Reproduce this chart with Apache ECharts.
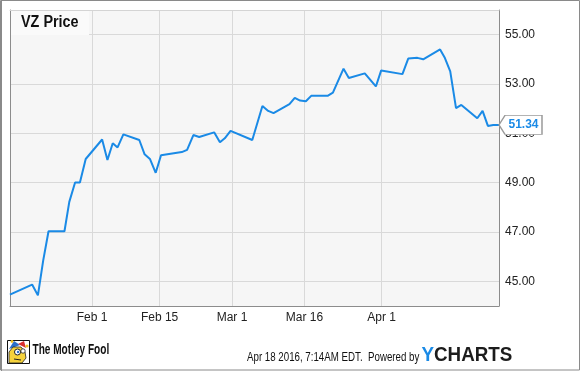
<!DOCTYPE html>
<html>
<head>
<meta charset="utf-8">
<script src="https://cdn.jsdelivr.net/npm/echarts@6/dist/echarts.min.js"></script>
<style>
html,body{margin:0;padding:0;background:#fff;}
#chart{width:580px;height:371px;}
</style>
</head>
<body>
<div id="chart"></div>
<script>
// x positions are day-of-year 2016 (Jan 1 = 0)
const tickDays = [31, 45, 60, 75, 91];
const tickLabels = ['Feb 1', 'Feb 15', 'Mar 1', 'Mar 16', 'Apr 1'];
const yLabelValues = [45, 47, 49, 51, 53, 55];
const days = [14.0, 18.6, 19.8, 20.9, 22.0, 25.3, 26.3, 27.5, 28.5, 29.7,
  33.1, 34.2, 35.3, 36.3, 37.5, 40.8, 41.9, 43.0, 44.2, 45.3,
  49.6, 50.7, 52.0, 53.2, 56.3, 57.5, 58.5, 59.7, 64.2, 66.3,
  67.5, 68.6, 71.9, 73.0, 74.1, 75.3, 76.4, 79.8, 80.9, 83.1,
  84.2, 87.5, 89.8, 90.9, 95.3, 96.5, 98.4, 99.6, 103.1, 104.1,
  105.2, 106.4, 107.5, 110.8, 111.9, 113.0, 114.1, 115.3];
const prices = [44.46, 44.87, 44.43, 45.85, 47.03, 47.03, 48.22, 49.01, 49.01, 49.96,
  50.75, 49.92, 50.60, 50.43, 50.96, 50.73, 50.15, 49.96, 49.40, 50.11,
  50.24, 50.33, 50.93, 50.85, 51.04, 50.64, 50.80, 51.10, 50.73, 52.11,
  51.91, 51.82, 52.18, 52.44, 52.33, 52.30, 52.52, 52.52, 52.65, 53.62,
  53.24, 53.43, 52.90, 53.55, 53.40, 54.03, 54.06, 54.00, 54.40, 54.05,
  53.51, 52.02, 52.15, 51.61, 51.91, 51.30, 51.34, 51.34];
const titleText = 'VZ Price';
const stampText = 'Apr 18 2016, 7:14AM EDT.  Powered by';

const FONT = '"Liberation Sans", Arial, sans-serif';
const LINE = '#1a8ae6';
const chart = echarts.init(document.getElementById('chart'), null, {renderer: 'canvas'});
const lastIdx = prices.length - 1;

chart.setOption({
  animation: false,
  backgroundColor: '#ffffff',
  grid: {left: 10, top: 10, right: 81, bottom: 65, show: true, backgroundColor: '#f6f6f6', borderWidth: 0},
  xAxis: [{
    type: 'value', min: 14.02, max: 115.3, position: 'bottom',
    axisLine: {show: true, lineStyle: {color: '#8c8c8c', width: 1}},
    axisTick: {show: false, customValues: tickDays},
    axisLabel: {customValues: tickDays, formatter: v => tickLabels[tickDays.indexOf(v)] || '',
      color: '#222', fontSize: 12, fontFamily: FONT, margin: 6},
    splitLine: {show: true, lineStyle: {color: '#d9d9d9', width: 1}}
  }, {
    type: 'value', min: 14.02, max: 115.3, position: 'top',
    axisLine: {show: true, lineStyle: {color: '#d4d4d4', width: 1}},
    axisTick: {show: false}, axisLabel: {show: false}, splitLine: {show: false}
  }],
  yAxis: [{
    type: 'value', min: 44, max: 56, interval: 1, position: 'right',
    axisLine: {show: true, lineStyle: {color: '#8c8c8c', width: 1}},
    axisTick: {show: false},
    axisLabel: {formatter: v => yLabelValues.indexOf(v) >= 0 ? v.toFixed(2) : '',
      color: '#222', fontSize: 12, fontFamily: FONT, margin: 6},
    splitLine: {show: true, lineStyle: {color: ['rgba(0,0,0,0)', '#d9d9d9'], width: 1}}
  }, {
    type: 'value', min: 44, max: 56, position: 'left',
    axisLine: {show: true, lineStyle: {color: '#8c8c8c', width: 1}},
    axisTick: {show: false}, axisLabel: {show: false}, splitLine: {show: false}
  }],
  series: [{
    type: 'line',
    xAxisIndex: 0, yAxisIndex: 0,
    data: days.map((d, i) => [d, prices[i]]),
    showSymbol: false,
    symbol: 'none',
    lineStyle: {color: LINE, width: 2},
    z: 3,
    markPoint: {
      symbol: 'path://M0,9.5 L6,0 L43,0 L43,19 L6,19 Z',
      symbolSize: [43, 19],
      symbolOffset: [21.5, 0],
      itemStyle: {color: '#ffffff', borderColor: '#9a9a9a', borderWidth: 1},
      label: {show: true, position: 'inside', offset: [3, 0], color: LINE, fontWeight: 'bold',
        fontSize: 12, fontFamily: FONT, formatter: p => Number(p.value).toFixed(2)},
      data: [{coord: [days[lastIdx], prices[lastIdx]], value: prices[lastIdx]}],
      z: 10
    }
  }],
  graphic: [
    // outer frame
    {type: 'rect', silent: true, z: 100, shape: {x: 0.5, y: 0.5, width: 579, height: 369.5},
      style: {fill: null, stroke: '#8a8a8a', lineWidth: 1}},
    {type: 'line', silent: true, z: 100, shape: {x1: 1.5, y1: 0, x2: 1.5, y2: 371},
      style: {stroke: '#8a8a8a', lineWidth: 1}},
    // title box
    {type: 'rect', silent: true, z: 50, shape: {x: 11, y: 11, width: 78, height: 24},
      style: {fill: '#fafafa'}},
    {type: 'text', silent: true, z: 51, x: 21, y: 23, scaleX: 0.9,
      style: {text: titleText, x: 0, y: 0, fill: '#111', font: 'bold 16px ' + FONT,
        textAlign: 'left', textVerticalAlign: 'middle'}},
    // Motley Fool logo (simple jester)
    {type: 'group', silent: true, z: 60, children: [
      {type: 'rect', shape: {x: 7.5, y: 340.5, width: 22, height: 23}, style: {fill: '#fff', stroke: '#111', lineWidth: 1}},
      {type: 'polygon', shape: {points: [[9, 349], [14, 341], [20, 345]]}, style: {fill: '#2a6fc9'}},
      {type: 'polygon', shape: {points: [[18, 344], [24, 341], [26, 348]]}, style: {fill: '#d93030'}},
      {type: 'circle', shape: {cx: 27, cy: 346, r: 1.6}, style: {fill: '#f0c020'}},
      {type: 'circle', shape: {cx: 12, cy: 341.5, r: 1.4}, style: {fill: '#f0c020'}},
      {type: 'polygon', shape: {points: [[9, 363], [9, 352], [13, 347], [21, 347], [25, 352], [26, 358], [22, 363]]},
        style: {fill: '#f5d23c', stroke: '#222', lineWidth: 0.8}},
      {type: 'circle', shape: {cx: 17.5, cy: 352, r: 3}, style: {fill: '#fff', stroke: '#222', lineWidth: 1}},
      {type: 'circle', shape: {cx: 18, cy: 352, r: 1.2}, style: {fill: '#2a6fc9'}},
      {type: 'circle', shape: {cx: 23, cy: 351, r: 2.2}, style: {fill: '#fff', stroke: '#222', lineWidth: 0.8}},
      {type: 'line', shape: {x1: 14, y1: 359, x2: 21, y2: 360}, style: {stroke: '#222', lineWidth: 1}}
    ]},
    {type: 'text', silent: true, z: 60, x: 32.5, y: 350.5, scaleX: 0.72,
      style: {text: 'The Motley Fool', x: 0, y: 0, fill: '#111', font: 'bold 14px ' + FONT,
        textAlign: 'left', textVerticalAlign: 'middle'}},
    {type: 'text', silent: true, z: 60, x: 247, y: 357.5, scaleX: 0.81,
      style: {text: stampText, x: 0, y: 0, fill: '#111', font: '12px ' + FONT,
        textAlign: 'left', textVerticalAlign: 'middle'}},
    {type: 'text', silent: true, z: 60, x: 421.5, y: 355, scaleX: 0.94,
      style: {text: '{y|Y}{c|CHARTS}', x: 0, y: 0, textAlign: 'left', textVerticalAlign: 'middle',
        rich: {
          y: {fill: '#1a8ae6', font: 'bold 20px ' + FONT},
          c: {fill: '#1c1c1c', font: 'bold 20px ' + FONT}
        }}}
  ]
});
</script>
</body>
</html>
